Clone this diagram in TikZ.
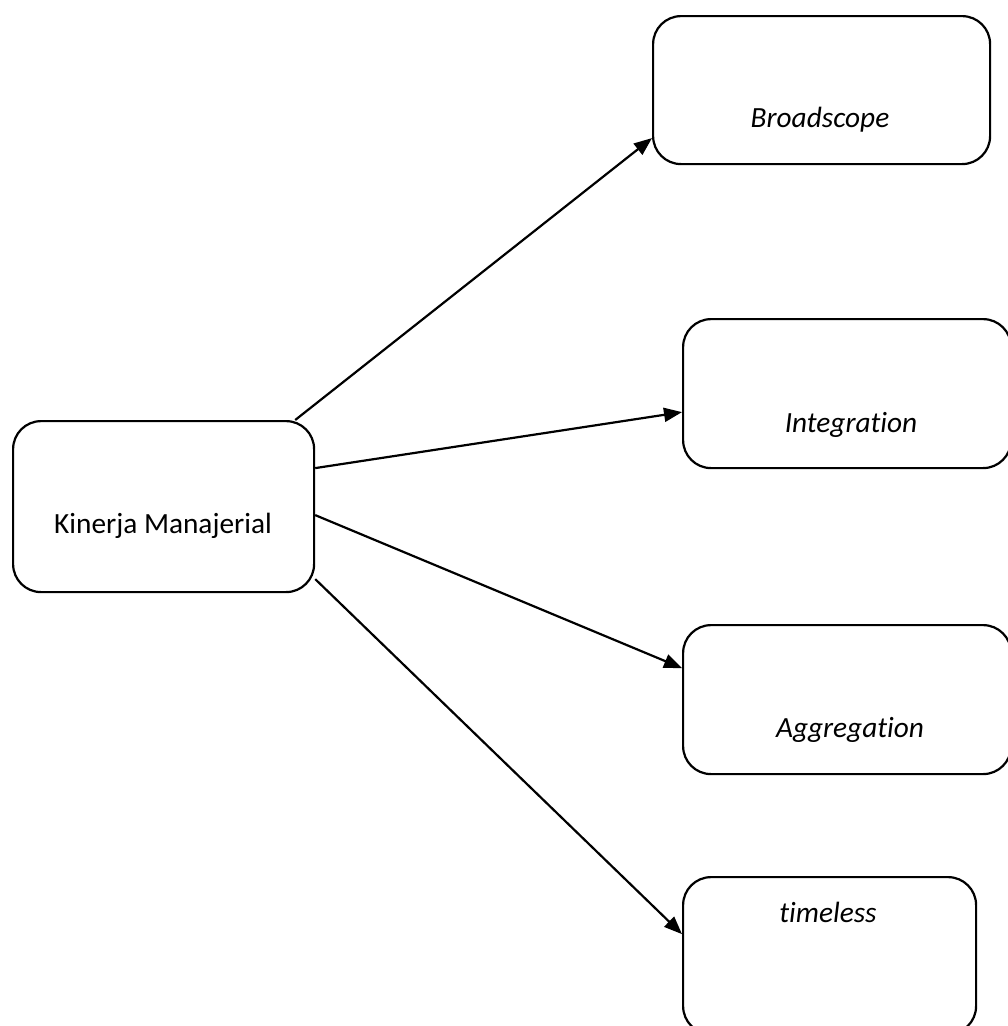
\documentclass[tikz,border=0pt]{standalone}
\usepackage{fontspec}
\setmainfont[Ligatures={NoCommon},RawFeature={-liga}]{Carlito}
\usetikzlibrary{arrows.meta}
\begin{document}
\begin{tikzpicture}[x=1pt,y=-1pt,
  box/.style={draw,line width=2.2pt,rounded corners=28pt,inner sep=0pt,anchor=north west},
  lbl/.style={inner sep=0pt,anchor=base,font=\fontsize{29.3}{35}\selectfont},
  ilbl/.style={lbl,font=\fontsize{29.3}{35}\selectfont\itshape},
  conn/.style={line width=2.2pt,-{Triangle[length=18pt,width=14pt]}}]
\clip (0,0) rectangle (1008,1026);
\useasboundingbox (0,0) rectangle (1008,1026);
\node[box,minimum width=301pt,minimum height=171pt] (k) at (12,420) {};
\node[box,minimum width=337pt,minimum height=148pt] (b) at (652,15) {};
\node[box,minimum width=328pt,minimum height=149pt] (i) at (682,318) {};
\node[box,minimum width=328pt,minimum height=149pt] (a) at (682,624) {};
\node[box,minimum width=293pt,minimum height=157pt] (t) at (682,876) {};
\node[lbl] (kt) at (163,533) {Kinerja Manajerial};
\node[ilbl] (bt) at (820,127) {Broadscope};
\node[ilbl] (it) at (851,432) {Integration};
\node[ilbl] (at) at (850,737) {Aggregation};
\node[ilbl] (tt) at (828,922) {timeless};
\draw[conn] ([xshift=-20pt]k.north east) -- ([yshift=-48pt]b.west);
\draw[conn] ([yshift=38.5pt]k.east) -- ([yshift=-18.5pt]i.west);
\draw[conn] ([yshift=-8.5pt]k.east) -- ([yshift=31.5pt]a.west);
\draw[conn] ([yshift=-72.5pt]k.east) -- ([yshift=21.5pt]t.west);
\end{tikzpicture}
\end{document}
